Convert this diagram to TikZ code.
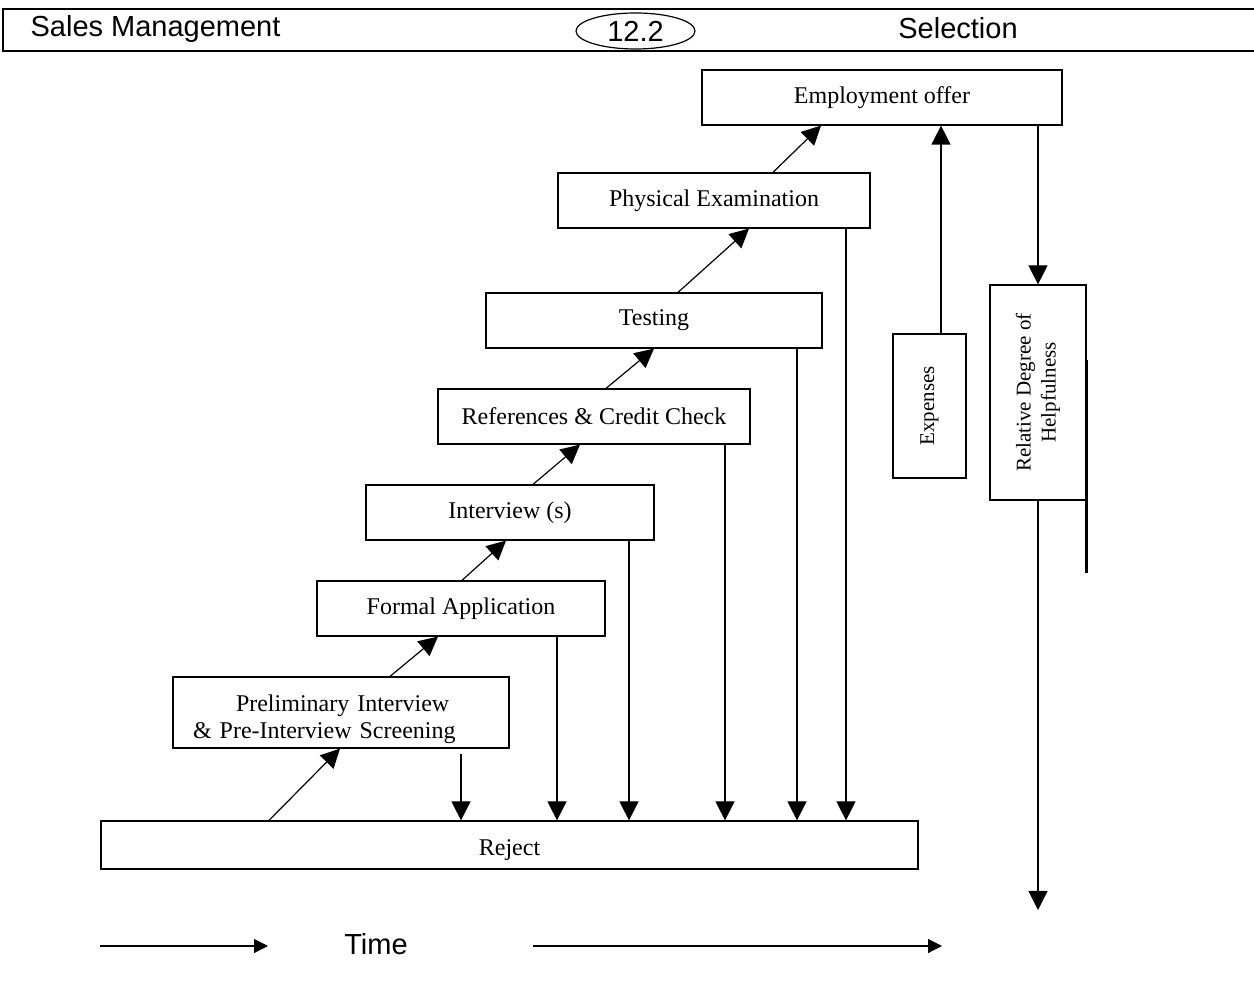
\documentclass[tikz,border=0pt]{standalone}
\usepackage{fontspec}
\setmainfont{Liberation Serif}
\newfontfamily\headfont{Liberation Sans}
\usetikzlibrary{arrows.meta, shapes.geometric}

\begin{document}
\begin{tikzpicture}[
        x=0.5pt, y=-0.5pt,
        line width=0.6pt,
        stage/.style={
            rectangle,
            draw=black,
            inner sep=0pt,
            minimum height=27.5pt,
            font=\fontsize{12}{13.5}\selectfont
        },
        sidebox/.style={
            rectangle,
            draw=black,
            inner sep=0pt,
            font=\fontsize{10.5}{12.5}\selectfont
        },
        headtext/.style={font=\headfont\fontsize{14.5}{16}\selectfont},
        arr/.style={-{Triangle[length=9.5pt, width=9.5pt]}},
        timearr/.style={-{Triangle[length=7pt, width=7pt]}}
    ]
        \useasboundingbox (0,0) rectangle (1254,988);
        % header strip
        \draw[line width=1.2pt] (1262,9) -- (3,9) -- (3,51) -- (1262,51);
        \node[headtext, anchor=west, inner xsep=0pt] (course) at (30,29) {Sales Management};
        \node[headtext, draw, ellipse, line width=0.6pt, inner sep=0pt, minimum width=59.5pt, minimum height=18pt] (unit) at (635.5,31) {12.2};
        \node[headtext] (topic) at (958,28.5) {Selection};
        % stages of the selection process
        \node[stage, minimum width=180pt] (offer) at (882,97.5) {Employment offer};
        \node[stage, minimum width=156pt] (phys) at (714,200.5) {Physical Examination};
        \node[stage, minimum width=168pt] (testing) at (654,320.5) {Testing};
        \node[stage, minimum width=156pt] (refs) at (594,416.5) {References \& Credit Check};
        \node[stage, minimum width=144pt] (interview) at (510,512.5) {Interview (s)};
        \node[stage, minimum width=144pt] (formal) at (461,608.5) {Formal Application};
        \node[stage, minimum width=168pt, minimum height=35.5pt, text width=148pt, align=left] (prelim) at (341,712.5) {\rule{0pt}{15pt}\hspace*{21.5pt}Preliminary Interview\\ \& Pre-Interview Screening};
        \node[stage, minimum width=408.5pt, minimum height=24pt] (reject) at (509.5,845) {\rule{0pt}{13pt}Reject};
        % side boxes
        \node[sidebox, minimum width=36.5pt, minimum height=72pt] (expenses) at (929.5,406) {\rotatebox{90}{Expenses}};
        \node[sidebox, minimum width=48pt, minimum height=107.5pt] (helpful) at (1038,392.5) {\rotatebox{90}{\begin{tabular}{@{}c@{}}Relative Degree of\\ Helpfulness\end{tabular}}};
        \coordinate (helpend) at (1038,910);
        \draw[line width=1.5pt] (helpful.east |- 0,360) -- (helpful.east |- 0,573);
        % steps up
        \draw[arr] (269,0 |- reject.north) -- (340,0 |- prelim.south);
        \draw[arr] (390,0 |- prelim.north) -- (438,0 |- formal.south);
        \draw[arr] (462,0 |- formal.north) -- (506,0 |- interview.south);
        \draw[arr] (533,0 |- interview.north) -- (580,0 |- refs.south);
        \draw[arr] (606,0 |- refs.north) -- (654,0 |- testing.south);
        \draw[arr] (678,0 |- testing.north) -- (749,0 |- phys.south);
        \draw[arr] (773,0 |- phys.north) -- (821,0 |- offer.south);
        % drop outs
        \draw[arr, shorten <=2.5pt] (461,0 |- prelim.south) -- (461,0 |- reject.north);
        \draw[arr] (557,0 |- formal.south) -- (557,0 |- reject.north);
        \draw[arr] (629,0 |- interview.south) -- (629,0 |- reject.north);
        \draw[arr] (725,0 |- refs.south) -- (725,0 |- reject.north);
        \draw[arr] (797,0 |- testing.south) -- (797,0 |- reject.north);
        \draw[arr] (846,0 |- phys.south) -- (846,0 |- reject.north);
        % cost and value
        \draw[arr] (941,0 |- expenses.north) -- (941,0 |- offer.south);
        \draw[arr] (helpful.north |- offer.south) -- (helpful.north);
        \draw[arr] (helpful.south) -- (helpend);
        % time axis
        \node[headtext] (time) at (376,944) {Time};
        \coordinate (t0) at (100,946);
        \coordinate (t1) at (268,946);
        \coordinate (t2) at (533,946);
        \coordinate (t3) at (942,946);
        \draw[timearr] (t0) -- (t1);
        \draw[timearr] (t2) -- (t3);
\end{tikzpicture}
\end{document}
